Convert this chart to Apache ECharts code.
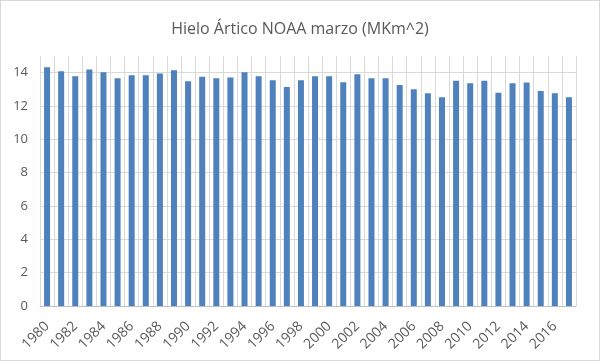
<!DOCTYPE html>
<html><head><meta charset="utf-8">
<script src="https://cdn.jsdelivr.net/npm/echarts@6/dist/echarts.min.js"></script>
<style>html,body{margin:0;padding:0;background:#fff}#c{width:600px;height:361px;box-sizing:border-box;border:1px solid #d9d9d9}</style>
</head><body><div id="c"></div>
<script>
const years = ['1980','1981','1982','1983','1984','1985','1986','1987','1988','1989','1990','1991','1992','1993','1994','1995','1996','1997','1998','1999','2000','2001','2002','2003','2004','2005','2006','2007','2008','2009','2010','2011','2012','2013','2014','2015','2016','2017'];
const iceValues = [14.33,14.09,13.79,14.19,14.03,13.67,13.85,13.85,13.95,14.15,13.48,13.75,13.67,13.71,14.03,13.79,13.55,13.14,13.55,13.79,13.79,13.43,13.91,13.67,13.67,13.26,13.0,12.76,12.52,13.51,13.37,13.51,12.80,13.37,13.41,12.90,12.76,12.52];
const titleText = 'Hielo Ártico NOAA marzo (MKm^2)';

const chart = echarts.init(document.getElementById('c'));
const gridColors = ['#d9d9d9','#d9d9d9','#d9d9d9','#d9d9d9','#d9d9d9','#d9d9d9','#d9d9d9','#d9d9d9','transparent'];
chart.setOption({
  animation: false,
  title: {text: titleText, left: 'center', top: 15,
    textStyle: {fontFamily: 'Open Sans', fontSize: 16, fontWeight: 'normal', color: '#595959'}},
  grid: {left: 39, right: 23, top: 55, bottom: 54},
  xAxis: {type: 'category', data: years, boundaryGap: true,
    axisLine: {lineStyle: {color: '#bfbfbf'}},
    axisTick: {show: false},
    splitLine: {show: true, interval: 0, lineStyle: {color: '#d9d9d9', width: 1}},
    axisLabel: {interval: 1, rotate: 45, color: '#595959', fontSize: 14, fontFamily: 'Open Sans', margin: 18}},
  yAxis: {type: 'value', min: 0, max: 15, interval: 2,
    axisLine: {show: false}, axisTick: {show: false},
    splitLine: {lineStyle: {color: gridColors}},
    axisLabel: {color: '#595959', fontSize: 13, fontFamily: 'Open Sans', margin: 12,
      formatter: v => (v === 15 ? '' : v)}},
  series: [{type: 'bar', data: iceValues, barWidth: 6, itemStyle: {color: '#4f81bd'}}]
});
</script></body></html>
